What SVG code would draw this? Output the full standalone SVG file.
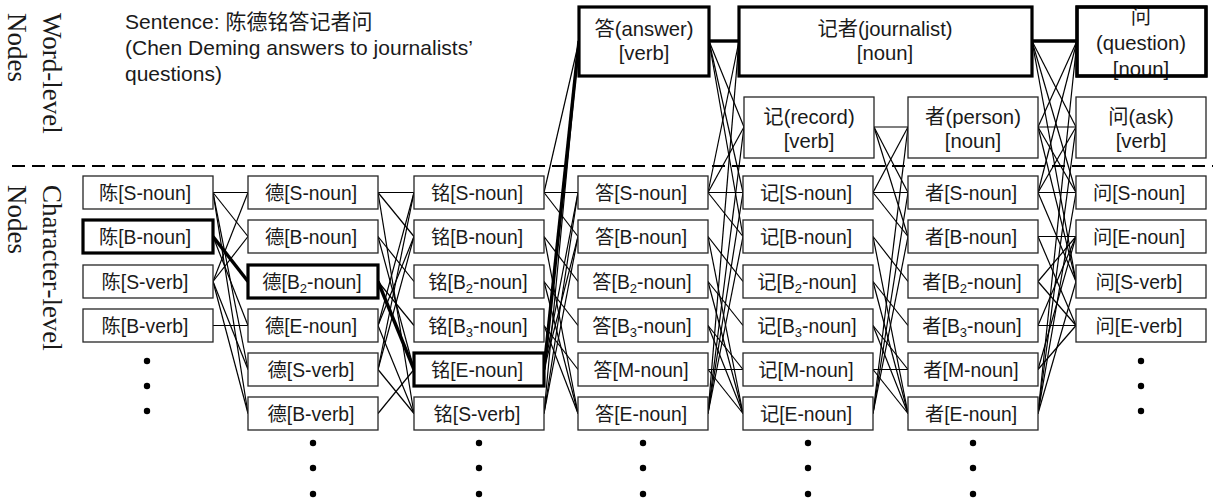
<svg xmlns="http://www.w3.org/2000/svg" width="1213" height="501" viewBox="0 0 1213 501">
<style>
.b{fill:#fff;stroke:#262626;stroke-width:1.3}
.bt{fill:#fff;stroke:#000;stroke-width:3.2}
.bn{fill:none;stroke:#000;stroke-width:3.2}
.e{stroke:#000;stroke-width:1.2;fill:none}
.et{stroke:#000;stroke-width:3.4;fill:none}
.t{font-family:"Liberation Sans","Noto Sans CJK SC",sans-serif;font-size:19.3px;fill:#1a1a1a;text-anchor:middle}
.w{font-family:"Liberation Sans","Noto Sans CJK SC",sans-serif;font-size:20.3px;fill:#1a1a1a;text-anchor:middle}
.s{font-family:"Liberation Sans","Noto Sans CJK SC",sans-serif;font-size:21px;fill:#1a1a1a}
.v{font-family:"Liberation Serif",serif;font-size:27px;fill:#1a1a1a}
.d{fill:#000}
</style>
<defs>
<circle id="dot" r="3.2"/>
</defs>
<g id="connectors">
<!-- gap 1 -->
<line class="e" x1="213" y1="192.5" x2="248" y2="192.5"/>
<line class="e" x1="213" y1="192.5" x2="248" y2="236.5"/>
<line class="e" x1="213" y1="192.5" x2="248" y2="369.5"/>
<line class="e" x1="213" y1="192.5" x2="248" y2="413.5"/>
<line class="e" x1="213" y1="281.5" x2="248" y2="192.5"/>
<line class="e" x1="213" y1="281.5" x2="248" y2="236.5"/>
<line class="e" x1="213" y1="281.5" x2="248" y2="369.5"/>
<line class="e" x1="213" y1="281.5" x2="248" y2="413.5"/>
<line class="et" x1="213" y1="236.5" x2="248" y2="281.5"/>
<line class="e" x1="213" y1="236.5" x2="248" y2="325.5"/>
<line class="e" x1="213" y1="325.5" x2="248" y2="325.5"/>
<!-- gap 2 -->
<line class="e" x1="378" y1="192.5" x2="414" y2="192.5"/>
<line class="e" x1="378" y1="192.5" x2="414" y2="236.5"/>
<line class="e" x1="378" y1="192.5" x2="414" y2="413.5"/>
<line class="e" x1="378" y1="325.5" x2="414" y2="192.5"/>
<line class="e" x1="378" y1="325.5" x2="414" y2="236.5"/>
<line class="e" x1="378" y1="325.5" x2="414" y2="413.5"/>
<line class="e" x1="378" y1="369.5" x2="414" y2="192.5"/>
<line class="e" x1="378" y1="369.5" x2="414" y2="236.5"/>
<line class="e" x1="378" y1="369.5" x2="414" y2="413.5"/>
<line class="e" x1="378" y1="236.5" x2="414" y2="281.5"/>
<line class="e" x1="378" y1="236.5" x2="414" y2="369.5"/>
<line class="e" x1="378" y1="281.5" x2="414" y2="325.5"/>
<line class="et" x1="378" y1="281.5" x2="414" y2="369.5"/>
<line class="e" x1="378" y1="413.5" x2="414" y2="369.5"/>
<!-- gap 3 -->
<line class="e" x1="544" y1="192.5" x2="578" y2="192.5"/>
<line class="e" x1="544" y1="192.5" x2="578" y2="236.5"/>
<line class="e" x1="544" y1="192.5" x2="579" y2="41"/>
<line class="e" x1="544" y1="369.5" x2="578" y2="192.5"/>
<line class="e" x1="544" y1="369.5" x2="578" y2="236.5"/>
<line class="et" x1="544" y1="369.5" x2="579" y2="41"/>
<line class="e" x1="544" y1="413.5" x2="578" y2="192.5"/>
<line class="e" x1="544" y1="413.5" x2="578" y2="236.5"/>
<line class="e" x1="544" y1="413.5" x2="579" y2="41"/>
<line class="e" x1="544" y1="236.5" x2="578" y2="281.5"/>
<line class="e" x1="544" y1="236.5" x2="578" y2="413.5"/>
<line class="e" x1="544" y1="281.5" x2="578" y2="325.5"/>
<line class="e" x1="544" y1="281.5" x2="578" y2="413.5"/>
<line class="e" x1="544" y1="325.5" x2="578" y2="369.5"/>
<line class="e" x1="544" y1="325.5" x2="578" y2="413.5"/>
<!-- gap 4 -->
<line class="e" x1="708" y1="192.5" x2="743" y2="192.5"/>
<line class="e" x1="708" y1="192.5" x2="743" y2="236.5"/>
<line class="e" x1="708" y1="192.5" x2="744" y2="127"/>
<line class="e" x1="708" y1="192.5" x2="739" y2="41"/>
<line class="e" x1="708" y1="413.5" x2="743" y2="192.5"/>
<line class="e" x1="708" y1="413.5" x2="743" y2="236.5"/>
<line class="e" x1="708" y1="413.5" x2="744" y2="127"/>
<line class="e" x1="708" y1="413.5" x2="739" y2="41"/>
<line class="e" x1="709" y1="41" x2="743" y2="192.5"/>
<line class="e" x1="709" y1="41" x2="743" y2="236.5"/>
<line class="e" x1="709" y1="41" x2="744" y2="127"/>
<line class="et" x1="709" y1="41" x2="739" y2="41"/>
<line class="e" x1="708" y1="236.5" x2="743" y2="281.5"/>
<line class="e" x1="708" y1="236.5" x2="743" y2="413.5"/>
<line class="e" x1="708" y1="281.5" x2="743" y2="325.5"/>
<line class="e" x1="708" y1="281.5" x2="743" y2="413.5"/>
<line class="e" x1="708" y1="325.5" x2="743" y2="369.5"/>
<line class="e" x1="708" y1="325.5" x2="743" y2="413.5"/>
<line class="e" x1="708" y1="369.5" x2="743" y2="369.5"/>
<line class="e" x1="708" y1="369.5" x2="743" y2="413.5"/>
<!-- gap 5 -->
<line class="e" x1="873" y1="192.5" x2="908" y2="192.5"/>
<line class="e" x1="873" y1="192.5" x2="908" y2="236.5"/>
<line class="e" x1="873" y1="192.5" x2="908" y2="127"/>
<line class="e" x1="873" y1="413.5" x2="908" y2="192.5"/>
<line class="e" x1="873" y1="413.5" x2="908" y2="236.5"/>
<line class="e" x1="873" y1="413.5" x2="908" y2="127"/>
<line class="e" x1="874" y1="127" x2="908" y2="192.5"/>
<line class="e" x1="874" y1="127" x2="908" y2="236.5"/>
<line class="e" x1="874" y1="127" x2="908" y2="127"/>
<line class="e" x1="873" y1="236.5" x2="908" y2="281.5"/>
<line class="e" x1="873" y1="236.5" x2="908" y2="413.5"/>
<line class="e" x1="873" y1="281.5" x2="908" y2="325.5"/>
<line class="e" x1="873" y1="281.5" x2="908" y2="413.5"/>
<line class="e" x1="873" y1="325.5" x2="908" y2="369.5"/>
<line class="e" x1="873" y1="325.5" x2="908" y2="413.5"/>
<line class="e" x1="873" y1="369.5" x2="908" y2="369.5"/>
<line class="e" x1="873" y1="369.5" x2="908" y2="413.5"/>
<!-- gap 6 -->
<line class="e" x1="1038" y1="192.5" x2="1076" y2="192.5"/>
<line class="e" x1="1038" y1="192.5" x2="1076" y2="281.5"/>
<line class="e" x1="1038" y1="192.5" x2="1077" y2="41"/>
<line class="e" x1="1038" y1="192.5" x2="1076" y2="127"/>
<line class="e" x1="1038" y1="413.5" x2="1076" y2="192.5"/>
<line class="e" x1="1038" y1="413.5" x2="1076" y2="281.5"/>
<line class="e" x1="1038" y1="413.5" x2="1077" y2="41"/>
<line class="e" x1="1038" y1="413.5" x2="1076" y2="127"/>
<line class="e" x1="1032" y1="41" x2="1076" y2="192.5"/>
<line class="e" x1="1032" y1="41" x2="1076" y2="281.5"/>
<line class="et" x1="1032" y1="41" x2="1077" y2="41"/>
<line class="e" x1="1032" y1="41" x2="1076" y2="127"/>
<line class="e" x1="1038" y1="127" x2="1076" y2="192.5"/>
<line class="e" x1="1038" y1="127" x2="1076" y2="281.5"/>
<line class="e" x1="1038" y1="127" x2="1077" y2="41"/>
<line class="e" x1="1038" y1="127" x2="1076" y2="127"/>
<line class="e" x1="1038" y1="236.5" x2="1076" y2="236.5"/>
<line class="e" x1="1038" y1="236.5" x2="1076" y2="325.5"/>
<line class="e" x1="1038" y1="281.5" x2="1076" y2="236.5"/>
<line class="e" x1="1038" y1="281.5" x2="1076" y2="325.5"/>
<line class="e" x1="1038" y1="325.5" x2="1076" y2="236.5"/>
<line class="e" x1="1038" y1="325.5" x2="1076" y2="325.5"/>
<line class="e" x1="1038" y1="369.5" x2="1076" y2="236.5"/>
<line class="e" x1="1038" y1="369.5" x2="1076" y2="325.5"/>
</g>
<line x1="12" y1="166" x2="1213" y2="166" stroke="#000" stroke-width="2" stroke-dasharray="13 7"/>
<g id="labels">
<text class="v" transform="translate(43,13) rotate(90)">Word-level<tspan x="0" dy="35">Nodes</tspan></text>
<text class="v" transform="translate(43,185) rotate(90)">Character-level<tspan x="0" dy="35">Nodes</tspan></text>
<text class="s" x="125" y="29">Sentence: 陈德铭答记者问</text>
<text class="s" x="125" y="55">(Chen Deming answers to journalists’</text>
<text class="s" x="125" y="81">questions)</text>
</g>
<!-- word-level nodes -->
<g id="w-answer"><rect class="bt" x="579" y="7" width="130" height="69"/><text class="w" x="644" y="36">答(answer)</text><text class="w" x="644" y="60">[verb]</text></g>
<g id="w-journalist"><rect class="bt" x="739" y="7" width="293" height="69"/><text class="w" x="885" y="36">记者(journalist)</text><text class="w" x="885" y="60">[noun]</text></g>
<g id="w-question"><rect class="bt" x="1077" y="7" width="129" height="69"/><text class="w" x="1141" y="24">问</text><text class="w" x="1141" y="50">(question)</text><text class="w" x="1141" y="76">[noun]</text><rect class="bn" x="1077" y="7" width="129" height="69"/></g>
<g id="w-record"><rect class="b" x="744" y="97" width="130" height="61"/><text class="w" x="809" y="124">记(record)</text><text class="w" x="809" y="148">[verb]</text></g>
<g id="w-person"><rect class="b" x="908" y="97" width="130" height="61"/><text class="w" x="973" y="124">者(person)</text><text class="w" x="973" y="148">[noun]</text></g>
<g id="w-ask"><rect class="b" x="1076" y="97" width="130" height="61"/><text class="w" x="1141" y="124">问(ask)</text><text class="w" x="1141" y="148">[verb]</text></g>
<!-- column 陈 -->
<g id="c0-0"><rect class="b" x="83" y="176" width="130" height="33"/><text class="t" x="145" y="200">陈[S-noun]</text></g>
<g id="c0-1"><rect class="bt" x="83" y="220" width="130" height="33"/><text class="t" x="145" y="244">陈[B-noun]</text></g>
<g id="c0-2"><rect class="b" x="83" y="265" width="130" height="33"/><text class="t" x="145" y="289">陈[S-verb]</text></g>
<g id="c0-3"><rect class="b" x="83" y="309" width="130" height="33"/><text class="t" x="145" y="333">陈[B-verb]</text></g>
<g id="c0-dots" class="d"><use href="#dot" x="147" y="361"/><use href="#dot" x="147" y="386"/><use href="#dot" x="147" y="411"/></g>
<!-- column 德 -->
<g id="c1-0"><rect class="b" x="248" y="176" width="130" height="33"/><text class="t" x="311" y="200">德[S-noun]</text></g>
<g id="c1-1"><rect class="b" x="248" y="220" width="130" height="33"/><text class="t" x="311" y="244">德[B-noun]</text></g>
<g id="c1-2"><rect class="bt" x="248" y="265" width="130" height="33"/><text class="t" x="312" y="289">德[B<tspan font-size="13" dy="4">2</tspan><tspan dy="-4">-noun]</tspan></text></g>
<g id="c1-3"><rect class="b" x="248" y="309" width="130" height="33"/><text class="t" x="311" y="333">德[E-noun]</text></g>
<g id="c1-4"><rect class="b" x="248" y="353" width="130" height="33"/><text class="t" x="311" y="377">德[S-verb]</text></g>
<g id="c1-5"><rect class="b" x="248" y="397" width="130" height="33"/><text class="t" x="311" y="421">德[B-verb]</text></g>
<g id="c1-dots" class="d"><use href="#dot" x="313" y="443"/><use href="#dot" x="313" y="468"/><use href="#dot" x="313" y="494"/></g>
<!-- column 铭 -->
<g id="c2-0"><rect class="b" x="414" y="176" width="130" height="33"/><text class="t" x="477" y="200">铭[S-noun]</text></g>
<g id="c2-1"><rect class="b" x="414" y="220" width="130" height="33"/><text class="t" x="477" y="244">铭[B-noun]</text></g>
<g id="c2-2"><rect class="b" x="414" y="265" width="130" height="33"/><text class="t" x="478" y="289">铭[B<tspan font-size="13" dy="4">2</tspan><tspan dy="-4">-noun]</tspan></text></g>
<g id="c2-3"><rect class="b" x="414" y="309" width="130" height="33"/><text class="t" x="478" y="333">铭[B<tspan font-size="13" dy="4">3</tspan><tspan dy="-4">-noun]</tspan></text></g>
<g id="c2-4"><rect class="bt" x="414" y="353" width="130" height="33"/><text class="t" x="477" y="377">铭[E-noun]</text></g>
<g id="c2-5"><rect class="b" x="414" y="397" width="130" height="33"/><text class="t" x="477" y="421">铭[S-verb]</text></g>
<g id="c2-dots" class="d"><use href="#dot" x="479" y="443"/><use href="#dot" x="479" y="468"/><use href="#dot" x="479" y="494"/></g>
<!-- column 答 -->
<g id="c3-0"><rect class="b" x="578" y="176" width="130" height="33"/><text class="t" x="641" y="200">答[S-noun]</text></g>
<g id="c3-1"><rect class="b" x="578" y="220" width="130" height="33"/><text class="t" x="641" y="244">答[B-noun]</text></g>
<g id="c3-2"><rect class="b" x="578" y="265" width="130" height="33"/><text class="t" x="642" y="289">答[B<tspan font-size="13" dy="4">2</tspan><tspan dy="-4">-noun]</tspan></text></g>
<g id="c3-3"><rect class="b" x="578" y="309" width="130" height="33"/><text class="t" x="642" y="333">答[B<tspan font-size="13" dy="4">3</tspan><tspan dy="-4">-noun]</tspan></text></g>
<g id="c3-4"><rect class="b" x="578" y="353" width="130" height="33"/><text class="t" x="641" y="377">答[M-noun]</text></g>
<g id="c3-5"><rect class="b" x="578" y="397" width="130" height="33"/><text class="t" x="641" y="421">答[E-noun]</text></g>
<g id="c3-dots" class="d"><use href="#dot" x="643" y="443"/><use href="#dot" x="643" y="468"/><use href="#dot" x="643" y="494"/></g>
<!-- column 记 -->
<g id="c4-0"><rect class="b" x="743" y="176" width="130" height="33"/><text class="t" x="806" y="200">记[S-noun]</text></g>
<g id="c4-1"><rect class="b" x="743" y="220" width="130" height="33"/><text class="t" x="806" y="244">记[B-noun]</text></g>
<g id="c4-2"><rect class="b" x="743" y="265" width="130" height="33"/><text class="t" x="807" y="289">记[B<tspan font-size="13" dy="4">2</tspan><tspan dy="-4">-noun]</tspan></text></g>
<g id="c4-3"><rect class="b" x="743" y="309" width="130" height="33"/><text class="t" x="807" y="333">记[B<tspan font-size="13" dy="4">3</tspan><tspan dy="-4">-noun]</tspan></text></g>
<g id="c4-4"><rect class="b" x="743" y="353" width="130" height="33"/><text class="t" x="806" y="377">记[M-noun]</text></g>
<g id="c4-5"><rect class="b" x="743" y="397" width="130" height="33"/><text class="t" x="806" y="421">记[E-noun]</text></g>
<g id="c4-dots" class="d"><use href="#dot" x="808" y="443"/><use href="#dot" x="808" y="468"/><use href="#dot" x="808" y="494"/></g>
<!-- column 者 -->
<g id="c5-0"><rect class="b" x="908" y="176" width="130" height="33"/><text class="t" x="971" y="200">者[S-noun]</text></g>
<g id="c5-1"><rect class="b" x="908" y="220" width="130" height="33"/><text class="t" x="971" y="244">者[B-noun]</text></g>
<g id="c5-2"><rect class="b" x="908" y="265" width="130" height="33"/><text class="t" x="972" y="289">者[B<tspan font-size="13" dy="4">2</tspan><tspan dy="-4">-noun]</tspan></text></g>
<g id="c5-3"><rect class="b" x="908" y="309" width="130" height="33"/><text class="t" x="972" y="333">者[B<tspan font-size="13" dy="4">3</tspan><tspan dy="-4">-noun]</tspan></text></g>
<g id="c5-4"><rect class="b" x="908" y="353" width="130" height="33"/><text class="t" x="971" y="377">者[M-noun]</text></g>
<g id="c5-5"><rect class="b" x="908" y="397" width="130" height="33"/><text class="t" x="971" y="421">者[E-noun]</text></g>
<g id="c5-dots" class="d"><use href="#dot" x="973" y="443"/><use href="#dot" x="973" y="468"/><use href="#dot" x="973" y="494"/></g>
<!-- column 问 -->
<g id="c6-0"><rect class="b" x="1076" y="176" width="130" height="33"/><text class="t" x="1139" y="200">问[S-noun]</text></g>
<g id="c6-1"><rect class="b" x="1076" y="220" width="130" height="33"/><text class="t" x="1139" y="244">问[E-noun]</text></g>
<g id="c6-2"><rect class="b" x="1076" y="265" width="130" height="33"/><text class="t" x="1139" y="289">问[S-verb]</text></g>
<g id="c6-3"><rect class="b" x="1076" y="309" width="130" height="33"/><text class="t" x="1139" y="333">问[E-verb]</text></g>
<g id="c6-dots" class="d"><use href="#dot" x="1141" y="361"/><use href="#dot" x="1141" y="386"/><use href="#dot" x="1141" y="411"/></g>
</svg>
